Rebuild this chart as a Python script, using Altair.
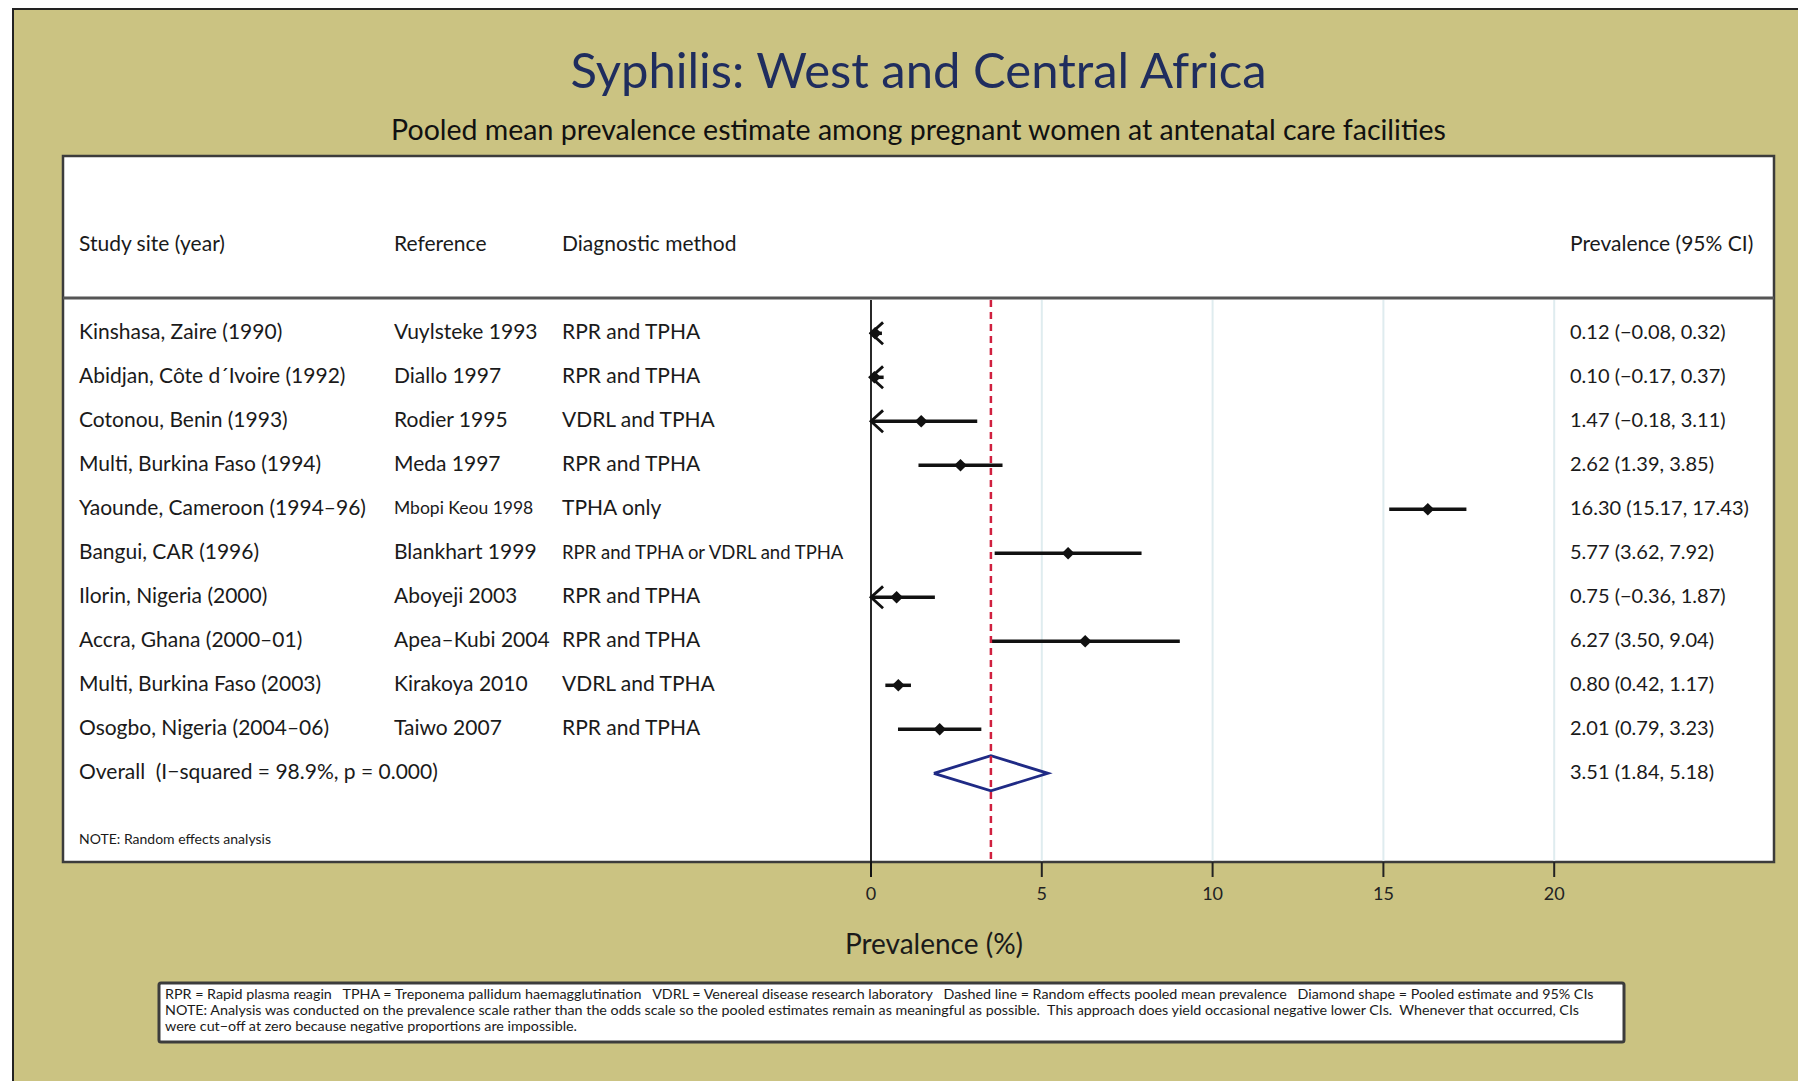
import altair as alt
import pandas as pd

# ---- study-level data -------------------------------------------------------
sites = [
    "Kinshasa, Zaire (1990)",
    "Abidjan, Côte d´Ivoire (1992)",
    "Cotonou, Benin (1993)",
    "Multi, Burkina Faso (1994)",
    "Yaounde, Cameroon (1994–96)",
    "Bangui, CAR (1996)",
    "Ilorin, Nigeria (2000)",
    "Accra, Ghana (2000–01)",
    "Multi, Burkina Faso (2003)",
    "Osogbo, Nigeria (2004–06)",
]
references = [
    "Vuylsteke 1993", "Diallo 1997", "Rodier 1995", "Meda 1997", "Mbopi Keou 1998",
    "Blankhart 1999", "Aboyeji 2003", "Apea–Kubi 2004", "Kirakoya 2010", "Taiwo 2007",
]
methods = [
    "RPR and TPHA", "RPR and TPHA", "VDRL and TPHA", "RPR and TPHA", "TPHA only",
    "RPR and TPHA or VDRL and TPHA", "RPR and TPHA", "RPR and TPHA", "VDRL and TPHA",
    "RPR and TPHA",
]
estimate = [0.12, 0.10, 1.47, 2.62, 16.30, 5.77, 0.75, 6.27, 0.80, 2.01]
lower = [-0.08, -0.17, -0.18, 1.39, 15.17, 3.62, -0.36, 3.50, 0.42, 0.79]
upper = [0.32, 0.37, 3.11, 3.85, 17.43, 7.92, 1.87, 9.04, 1.17, 3.23]

overall_label = "Overall\u2002(I−squared = 98.9%, p = 0.000)"
overall_est, overall_lo, overall_hi = 3.51, 1.84, 5.18

x_ticks = [0, 5, 10, 15, 20]

title_text = "Syphilis: West and Central Africa"
subtitle_text = "Pooled mean prevalence estimate among pregnant women at antenatal care facilities"
x_title = "Prevalence (%)"
headers = ["Study site (year)", "Reference", "Diagnostic method", "Prevalence (95% CI)"]
note_text = "NOTE: Random effects analysis"
GAP = "\u2003"
footnote_lines = [
    f"RPR = Rapid plasma reagin{GAP}TPHA = Treponema pallidum haemagglutination{GAP}"
    f"VDRL = Venereal disease research laboratory{GAP}Dashed line = Random effects pooled mean prevalence{GAP}"
    "Diamond shape = Pooled estimate and 95% CIs",
    "NOTE: Analysis was conducted on the prevalence scale rather than the odds scale so the pooled "
    "estimates remain as meaningful as possible.\u2002This approach does yield occasional negative lower CIs.\u2002"
    "Whenever that occurred, CIs",
    "were cut−off at zero because negative proportions are impossible.",
]

# ---- layout / style ---------------------------------------------------------
FONT = "Lato"
OLIVE = "#cbc382"
NAVY = "#1f2d5e"
INK = "#1a1a1a"
W, H = 1711, 706              # white panel = plot area
PAD = {"left": 63, "top": 156, "right": 24, "bottom": 219}
SEP_Y = 142                   # header separator
HEADER_Y = 89
COL_X = [16, 331, 499, 1507]
ROW_FONT = 21
NUM_FONT = 20
small_sizes = {"Mbopi Keou 1998": 17.5, "RPR and TPHA or VDRL and TPHA": 18.5}
DIAMOND_HALF = 0.40           # half height of pooled diamond, in row units


def fmt(v):
    return f"{v:.2f}".replace("-", "−")


rows = pd.DataFrame({
    "row": list(range(len(sites))),
    "site": sites,
    "ref": references,
    "method": methods,
    "est": estimate,
    "lo": lower,
    "hi": upper,
})
rows["lo_cut"] = rows["lo"].clip(lower=0)
rows["label"] = [f"{fmt(e)} ({fmt(l)}, {fmt(h)})" for e, l, h in zip(estimate, lower, upper)]
rows["ref_size"] = [small_sizes.get(t, ROW_FONT) for t in references]
rows["method_size"] = [small_sizes.get(t, ROW_FONT) for t in methods]
arrows = rows[rows["lo"] < 0].assign(zero=0.0)

n = len(sites)
overall = pd.DataFrame({
    "row": [n], "site": [overall_label],
    "label": [f"{fmt(overall_est)} ({fmt(overall_lo)}, {fmt(overall_hi)})"],
})
diamond = pd.DataFrame({
    "x": [overall_lo, overall_est, overall_hi, overall_est, overall_lo],
    "y": [n, n - DIAMOND_HALF, n, n + DIAMOND_HALF, n],
    "o": [0, 1, 2, 3, 4],
})

x_scale = alt.Scale(domain=[0, 20], range=[808, 1491.2])
y_scale = alt.Scale(domain=[0, n], range=[177.3, 617.3])
X = lambda f: alt.X(f, type="quantitative", scale=x_scale, axis=None)
Y = lambda f: alt.Y(f, type="quantitative", scale=y_scale, axis=None)

one = pd.DataFrame({"k": [0]})

# olive page background with a dark frame on the top/left edge
page = alt.Chart(one).mark_rect(fill=OLIVE, stroke="#222222", strokeWidth=2).encode(
    x=alt.value(-50), x2=alt.value(W + 60), y=alt.value(-147), y2=alt.value(H + 260)
)

# title block
title = alt.Chart(pd.DataFrame({"t": [title_text]})).mark_text(
    align="center", baseline="middle", font=FONT, fontSize=49, color=NAVY
).encode(text="t:N", x=alt.value(W / 2), y=alt.value(-83))
subtitle = alt.Chart(pd.DataFrame({"t": [subtitle_text]})).mark_text(
    align="center", baseline="middle", font=FONT, fontSize=28.5, color="#111111"
).encode(text="t:N", x=alt.value(W / 2), y=alt.value(-25))

# white panel
panel = alt.Chart(one).mark_rect(fill="white", stroke="#3c3c3c", strokeWidth=2.5).encode(
    x=alt.value(0), x2=alt.value(W), y=alt.value(0), y2=alt.value(H)
)

separator = alt.Chart(one).mark_rule(color="#555555", strokeWidth=3).encode(
    x=alt.value(0), x2=alt.value(W), y=alt.value(SEP_Y)
)

tick_df = pd.DataFrame({"v": x_ticks, "lab": [str(t) for t in x_ticks]})

# x axis: ticks hanging below the panel, labels and title underneath
ticks = alt.Chart(tick_df).mark_rule(color="#222222", strokeWidth=2).encode(
    x=X("v"), y=alt.value(H), y2=alt.value(H + 15)
)
tick_labels = alt.Chart(tick_df).mark_text(
    align="center", baseline="middle", font=FONT, fontSize=18, color="#222222"
).encode(x=X("v"), y=alt.value(H + 33), text="lab:N")
axis_title = alt.Chart(pd.DataFrame({"t": [x_title]})).mark_text(
    align="center", baseline="middle", font=FONT, fontSize=28, color=INK
).encode(text="t:N", x=alt.value(871), y=alt.value(H + 84))

grid = alt.Chart(tick_df[tick_df["v"] > 0]).mark_rule(
    color="#dfecef", strokeWidth=2
).encode(x=X("v"), y=alt.value(SEP_Y + 2), y2=alt.value(H - 1))

zero_line = alt.Chart(tick_df[tick_df["v"] == 0]).mark_rule(
    color="#111111", strokeWidth=1.8
).encode(x=X("v"), y=alt.value(SEP_Y + 2), y2=alt.value(H + 15))

pooled_line = alt.Chart(pd.DataFrame({"v": [overall_est]})).mark_rule(
    color="#d0203f", strokeWidth=2.5, strokeDash=[7, 5]
).encode(x=X("v"), y=alt.value(SEP_Y + 2), y2=alt.value(H - 1))

ci = alt.Chart(rows).mark_rule(color="#111111", strokeWidth=3.5).encode(
    x=X("lo_cut"), x2="hi", y=Y("row")
)

points = alt.Chart(rows).mark_point(
    shape="diamond", filled=True, color="#111111", size=160, opacity=1
).encode(x=X("est"), y=Y("row"))

arrowheads = alt.Chart(arrows).mark_point(
    shape="M1.1,-1L0,0L1.1,1", filled=False, color="#111111", strokeWidth=2.8,
    size=480, opacity=1
).encode(x=X("zero"), y=Y("row"))

pooled_diamond = alt.Chart(diamond).mark_line(color="#1f2a85", strokeWidth=2.8).encode(
    x=X("x"), y=Y("y"), order="o:Q"
)


# text columns
def text_col(df, field, x, size=ROW_FONT, size_field=None):
    enc = dict(text=f"{field}:N", x=alt.value(x), y=Y("row"))
    if size_field is not None:
        enc["size"] = alt.Size(f"{size_field}:Q", scale=None, legend=None)
    return alt.Chart(df).mark_text(
        align="left", baseline="middle", font=FONT, fontSize=size, color=INK
    ).encode(**enc)


site_txt = text_col(rows, "site", COL_X[0])
ref_txt = text_col(rows, "ref", COL_X[1], size_field="ref_size")
method_txt = text_col(rows, "method", COL_X[2], size_field="method_size")
prev_txt = text_col(rows, "label", COL_X[3], size=NUM_FONT)
overall_site = text_col(overall, "site", COL_X[0])
overall_prev = text_col(overall, "label", COL_X[3], size=NUM_FONT)

header_df = pd.DataFrame({"h": headers, "xp": COL_X})
header_txt = alt.Chart(header_df).mark_text(
    align="left", baseline="middle", font=FONT, fontSize=ROW_FONT, color=INK
).encode(text="h:N", x=alt.X("xp:Q", scale=None, axis=None), y=alt.value(HEADER_Y))

note = alt.Chart(pd.DataFrame({"t": [note_text]})).mark_text(
    align="left", baseline="middle", font=FONT, fontSize=14, color=INK
).encode(text="t:N", x=alt.value(COL_X[0]), y=alt.value(684))

# footnote box below the axis
foot_box = alt.Chart(one).mark_rect(
    fill="white", stroke="#3c3c3c", strokeWidth=3, cornerRadius=2
).encode(x=alt.value(96), x2=alt.value(1561), y=alt.value(827), y2=alt.value(886))

foot_txt = alt.Chart(pd.DataFrame({"t": ["\n".join(footnote_lines)]})).mark_text(
    align="left", baseline="top", font=FONT, fontSize=14.3, color=INK,
    lineBreak="\n", lineHeight=16,
).encode(text="t:N", x=alt.value(102), y=alt.value(832))

chart = alt.layer(
    page, title, subtitle, panel, grid, separator, ticks, tick_labels, axis_title,
    zero_line, ci, pooled_diamond, pooled_line, points, arrowheads,
    site_txt, ref_txt, method_txt, prev_txt, overall_site, overall_prev,
    header_txt, note, foot_box, foot_txt,
).properties(
    width=W, height=H,
).configure(
    background="white", padding=PAD, autosize=alt.AutoSizeParams(type="none"),
).configure_view(stroke=None)

chart.save("out.html", embed_options={"renderer": "svg", "actions": False})
